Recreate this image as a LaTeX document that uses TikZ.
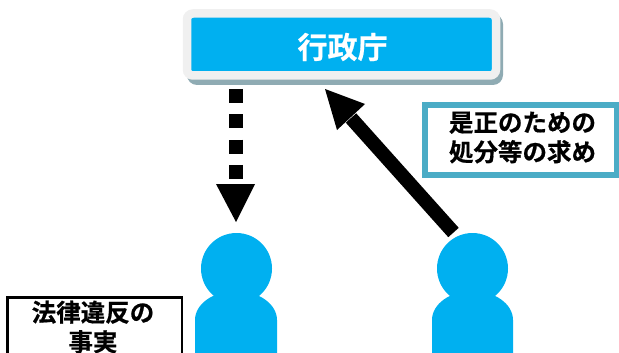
\documentclass[tikz,border=0pt]{standalone}
\usepackage{fontspec}
\setmainfont{Noto Sans CJK JP}[BoldFont={Noto Sans CJK JP Bold},BoldFeatures={FakeBold=0.6}]
\usetikzlibrary{shapes,arrows,positioning}
\definecolor{skyblue}{HTML}{00B0F0}
\definecolor{teal}{HTML}{4BACC6}
\definecolor{shadegray}{HTML}{8FABB3}
\tikzstyle{office}   = [fill = skyblue, draw = black!6, line width=8.5pt, rounded corners=6pt, minimum width=309pt, minimum height=62pt]
\tikzstyle{shade}    = [fill = shadegray, rounded corners=10pt]
\tikzstyle{frame}    = [fill = white, inner sep=0pt]
\tikzstyle{note}     = [align=center, font=\bfseries\fontsize{24.5}{29.5}\selectfont, inner sep=0pt]
\tikzstyle{person}   = [fill = skyblue]
\tikzstyle{line}     = [draw, line width=14pt]
\begin{document}
\begin{tikzpicture}[x=1pt, y=-1pt]
	\useasboundingbox (0,0) rectangle (619,353);
	% Node Setting %
	\fill [shade] (187,14) rectangle (503,85);
	\node [office] (agency) at (341.5,44.5) {};
	\node [text = white, font=\bfseries\fontsize{30}{34}\selectfont, inner sep=0pt] (agencytext) at (342.5,47) {行政庁};
	\node [frame, draw = teal, line width=6pt, minimum width=192pt, minimum height=70pt] (demandbox) at (521,140) {};
	\node [note] (demand) at (522.5,137.5) {是正のための\\処分等の求め};
	\node [frame, draw = black, line width=2.5pt, minimum width=174.5pt, minimum height=70pt, anchor=north west] (factbox) at (6.25,296.25) {};
	\node [note] (fact) at (93,327) {法律違反の\\事実};
	\coordinate (dashstart) at (236,89);
	\coordinate (dashend) at (236,179);
	\coordinate (headleft) at (216,184);
	\coordinate (headright) at (255,184);
	\coordinate (headtip) at (236,222);
	\coordinate (arrowstart) at (453.5,232.5);
	\coordinate (arrowend) at (351,118);
	\coordinate (arrowleft) at (337,130);
	\coordinate (arrowright) at (365,104);
	\coordinate (arrowtip) at (325,89);
	% Connection %
	\path [line, dash pattern=on 14pt off 11.3pt] (dashstart) -- (dashend);
	\fill (headleft) -- (headright) -- (headtip) -- cycle;
	\path [line] (arrowstart) -- (arrowend);
	\fill (arrowleft) -- (arrowtip) -- (arrowright) -- cycle;
	% Persons %
	\fill [person] (195,353) -- (195,320) arc [start angle=180, end angle=360, x radius=41, y radius=29] -- (277,353) -- cycle;
	\fill [person] (236.5,268.5) circle [radius=35.5];
	\fill [person] (432,353) -- (432,320) arc [start angle=180, end angle=360, x radius=40.5, y radius=29] -- (513,353) -- cycle;
	\fill [person] (472.5,268.5) circle [radius=35.5];
\end{tikzpicture}
\end{document}
